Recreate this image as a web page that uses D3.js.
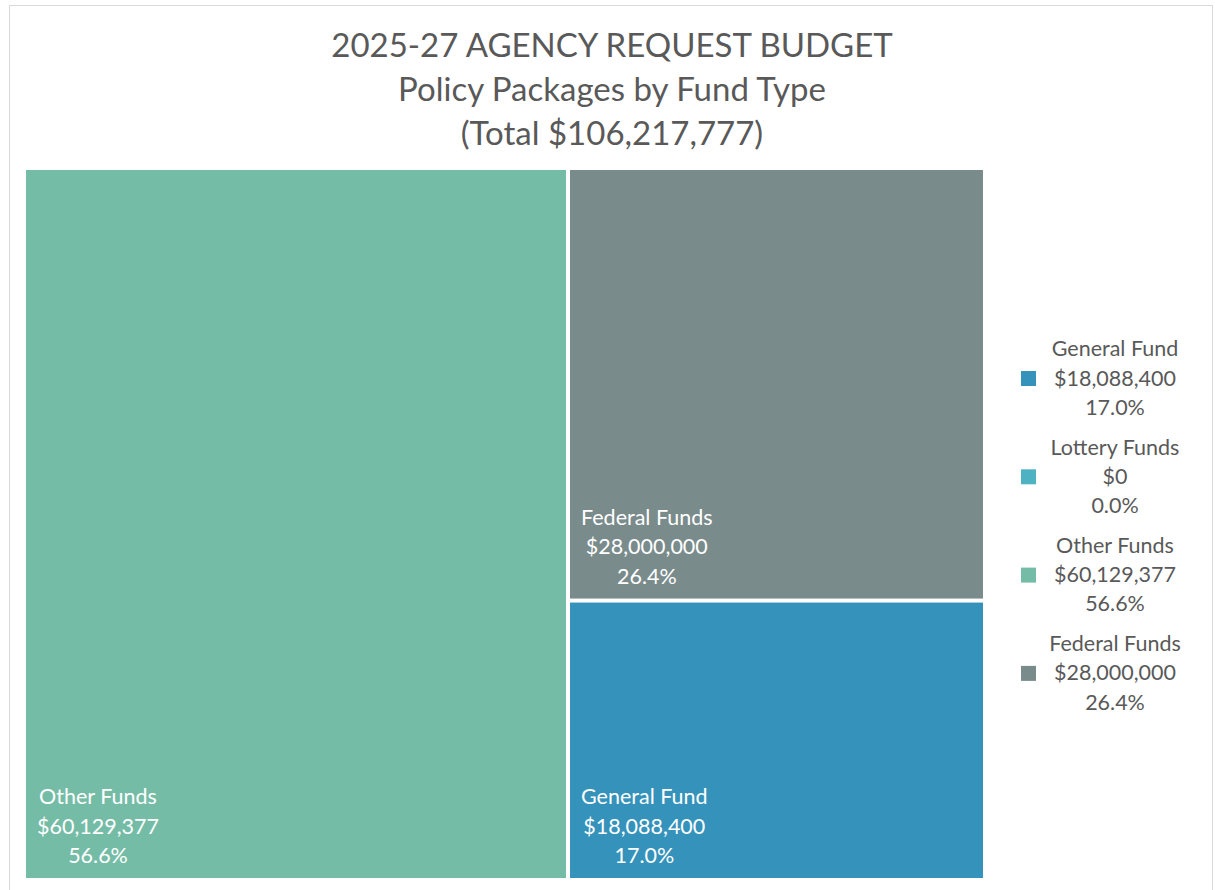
<!DOCTYPE html>
<html>
<head>
<meta charset="utf-8">
<script src="https://cdn.jsdelivr.net/npm/d3@7"></script>
<style>
  html, body { margin: 0; padding: 0; background: #fff; }
  svg { display: block; }
</style>
</head>
<body>
<svg id="chart" width="1215" height="890"></svg>
<script>
// Fund types, amounts and colours (legend order)
const funds = ["General Fund", "Lottery Funds", "Other Funds", "Federal Funds"];
const amounts = [18088400, 0, 60129377, 28000000];
const colors = ["#3592bb", "#4eb2c3", "#75bca6", "#7a8b8c"];
const titleLines = ["2025-27 AGENCY REQUEST BUDGET", "Policy Packages by Fund Type", "(Total $106,217,777)"];

const FONT = "Lato, 'Open Sans', sans-serif";
const TEXT = "#595959";
const LABEL_SIZE = 21.5;

const svg = d3.select("#chart");
const total = d3.sum(amounts);
const money = d3.format("$,");
const pct = v => (v / total * 100).toFixed(1) + "%";
const color = d3.scaleOrdinal(funds, colors);

// Outer frame
svg.append("rect")
  .attr("x", 9.5).attr("y", 5.5).attr("width", 1203).attr("height", 900)
  .attr("fill", "#fff").attr("stroke", "#d9d9d9").attr("stroke-width", 1);

// Title
svg.append("g").selectAll("text").data(titleLines).join("text")
  .attr("x", 612).attr("y", (d, i) => 57 + i * 44)
  .attr("text-anchor", "middle")
  .attr("font-family", FONT).attr("font-size", 33)
  .attr("fill", TEXT)
  .text(d => d);

// Treemap
const root = d3.hierarchy({
    children: funds.map((f, i) => ({ name: f, value: amounts[i] }))
  })
  .sum(d => d.value || 0)
  .sort((a, b) => b.value - a.value);

d3.treemap()
  .tile(d3.treemapSquarify)
  .size([957, 708])
  .paddingInner(4)
  .round(false)(root);

const plot = svg.append("g").attr("transform", "translate(26,170)");
const leaves = root.leaves().filter(d => d.value > 0);

const cell = plot.selectAll("g.cell").data(leaves).join("g").attr("class", "cell");

cell.append("rect")
  .attr("x", d => d.x0).attr("y", d => d.y0)
  .attr("width", d => d.x1 - d.x0).attr("height", d => d.y1 - d.y0)
  .attr("fill", d => color(d.data.name));

// Labels: three centred lines, block anchored at the bottom-left of each cell
cell.each(function(d) {
  const g = d3.select(this);
  const lines = [d.data.name, money(d.value), pct(d.value)];
  const tmp = g.append("text").attr("font-family", FONT).attr("font-size", LABEL_SIZE);
  let w = 0;
  lines.forEach(l => { tmp.text(l); w = Math.max(w, tmp.node().getComputedTextLength()); });
  tmp.remove();
  const cx = d.x0 + 11 + w / 2;
  const baseY = d.y1 - 15;
  g.selectAll("text.lbl").data(lines).join("text")
    .attr("class", "lbl")
    .attr("x", cx)
    .attr("y", (t, i) => baseY - (2 - i) * 29.5)
    .attr("text-anchor", "middle")
    .attr("font-family", FONT).attr("font-size", LABEL_SIZE)
    .attr("fill", "#fff")
    .text(t => t);
});

// Legend
const legend = svg.append("g").attr("transform", "translate(1021,0)");
const item = legend.selectAll("g").data(funds).join("g")
  .attr("transform", (d, i) => `translate(0,${378 + i * 98.3})`);
item.append("rect")
  .attr("x", 0).attr("y", -7).attr("width", 15).attr("height", 15)
  .attr("fill", d => color(d));
item.selectAll("text").data((d, i) => [d, money(amounts[i]), pct(amounts[i])]).join("text")
  .attr("x", 94)
  .attr("y", (t, j) => (j - 1) * 29.3 + 7.5)
  .attr("text-anchor", "middle")
  .attr("font-family", FONT).attr("font-size", LABEL_SIZE)
  .attr("fill", TEXT)
  .text(t => t);
</script>
</body>
</html>
